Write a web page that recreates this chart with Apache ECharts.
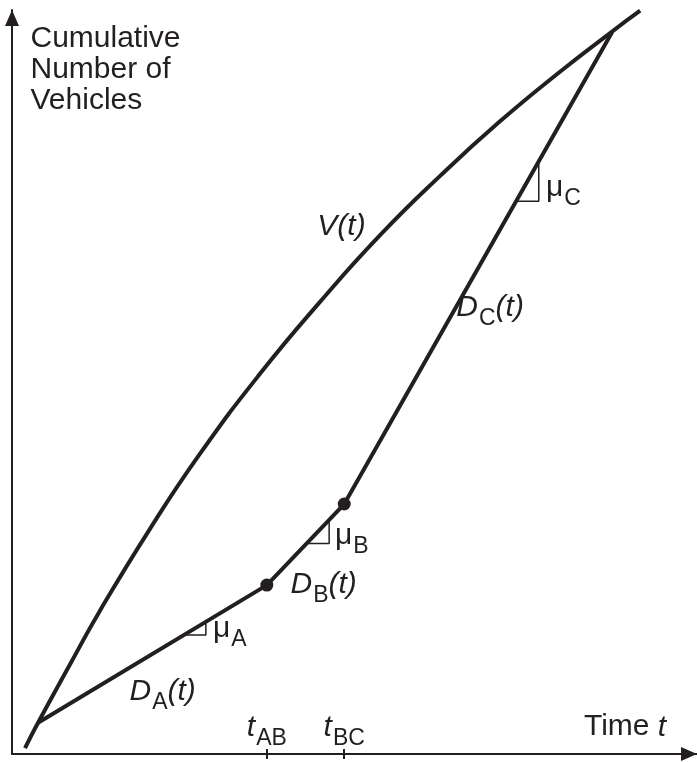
<!DOCTYPE html>
<html>
<head>
<meta charset="utf-8">
<script src="https://cdn.jsdelivr.net/npm/echarts@6/dist/echarts.min.js"></script>
<style>
html, body { margin: 0; padding: 0; background: #fff; }
#chart { width: 697px; height: 762px; }
</style>
</head>
<body>
<div id="chart"></div>
<script>
// values, t and N on a 0-100 scale
const arrivals = [[1.9, 0.8], [3.8, 4.2], [8.5, 12.1], [12.8, 19.2], [20.1, 30.2], [27.4, 40.3],
  [36.2, 51.1], [45.0, 60.8], [53.7, 69.7], [62.5, 77.7], [71.2, 85.0], [80.0, 91.7],
  [87.6, 97.1], [91.7, 99.9]];
const departures = [[3.8, 4.2], [37.2, 22.7], [48.5, 33.6], [87.6, 97.0]];
const breakpoints = [[37.2, 22.7], [48.5, 33.6]];
const tickValues = [37.2, 48.5];
const tickNames = ["AB", "BC"];
const slopeA = [[25.3, 16.0], [28.3, 16.0], [28.3, 17.8]];
const slopeB = [[43.1, 28.3], [46.3, 28.3], [46.3, 31.4]];
const slopeC = [[73.7, 74.3], [76.9, 74.3], [76.9, 79.5]];

// text annotations: [t, N, rich text, align]
const notes = [
  [2.7, 92.0, "{rm|Cumulative}\n{rm|Number of}\n{rm|Vehicles}", "left"],
  [48.1, 70.9, "{it|V(t)}", "center"],
  [69.8, 60.0, "{it|D}{sub|C}{it|(t)}", "center"],
  [45.5, 22.8, "{it|D}{sub|B}{it|(t)}", "center"],
  [22.0, 8.4, "{it|D}{sub|A}{it|(t)}", "center"],
  [80.5, 76.1, "{rm|μ}{sub|C}", "center"],
  [49.6, 29.4, "{rm|μ}{sub|B}", "center"],
  [31.8, 16.9, "{rm|μ}{sub|A}", "center"],
  [89.5, 3.6, "{rm|Time }{it|t}", "center"],
];

const ink = "#231f20";
const font = "Liberation Sans";
const rich = {
  rm: { fontFamily: font, fontSize: 30, lineHeight: 31, color: ink },
  it: { fontFamily: font, fontSize: 30, fontStyle: "italic", color: ink },
  sub: { fontFamily: font, fontSize: 23, color: ink, padding: [22, 0, 0, 1] },
};

function slopeSeries(data) {
  return {
    type: "line", data: data, symbol: "none", silent: true,
    lineStyle: { color: ink, width: 1.5 },
  };
}

const arrowLine = {
  lineStyle: { color: ink, width: 2 },
  symbol: ["none", "triangle"], symbolSize: [14, 16], symbolOffset: [0, -8],
};

const chart = echarts.init(document.getElementById("chart"));
chart.setOption({
  animation: false,
  grid: { left: 12, right: 0, top: 10, bottom: 8 },
  xAxis: [
    {
      type: "value", min: 0, max: 100,
      splitLine: { show: false },
      axisLine: arrowLine,
      axisTick: { show: true, customValues: tickValues, length: 5, lineStyle: { color: ink, width: 2 } },
      axisLabel: {
        show: true, inside: true, margin: 4, customValues: tickValues,
        formatter: (v) => "{it|t}{sub|" + tickNames[tickValues.indexOf(v)] + "}",
        rich: rich,
      },
    },
    {
      type: "value", min: 0, max: 100, position: "bottom",
      splitLine: { show: false }, axisLine: { show: false }, axisLabel: { show: false },
      axisTick: { show: true, inside: true, customValues: tickValues, length: 5, lineStyle: { color: ink, width: 2 } },
    },
  ],
  yAxis: {
    type: "value", min: 0, max: 100,
    splitLine: { show: false }, axisTick: { show: false }, axisLabel: { show: false },
    axisLine: arrowLine,
  },
  series: [
    {
      name: "V(t)", type: "line", data: arrivals, smooth: 0.5, symbol: "none", silent: true,
      lineStyle: { color: ink, width: 4 },
    },
    {
      name: "D(t)", type: "line", data: departures, symbol: "none", silent: true,
      lineStyle: { color: ink, width: 4 },
    },
    {
      type: "scatter", data: breakpoints, symbolSize: 13, silent: true,
      itemStyle: { color: ink, opacity: 1 },
    },
    slopeSeries(slopeA),
    slopeSeries(slopeB),
    slopeSeries(slopeC),
    {
      type: "scatter", symbolSize: 1, silent: true,
      itemStyle: { color: "transparent", opacity: 1 },
      data: notes.map((n) => ({
        value: [n[0], n[1]],
        label: {
          show: true, position: "inside", formatter: n[2], align: n[3], verticalAlign: "middle",
          color: ink, opacity: 1, textBorderWidth: 0, rich: rich,
        },
      })),
    },
  ],
});
</script>
</body>
</html>
